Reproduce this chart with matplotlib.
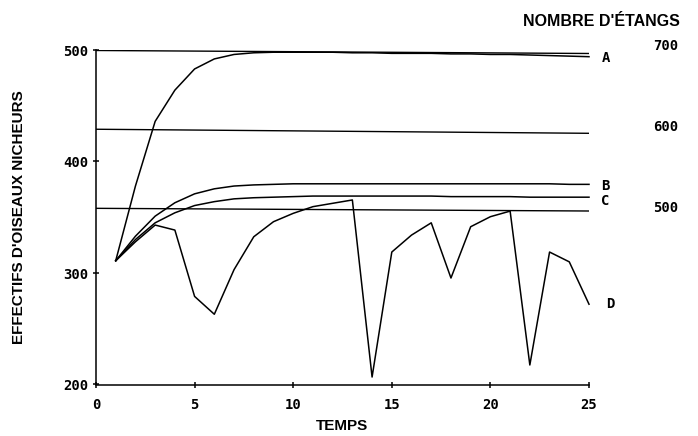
import matplotlib
matplotlib.use("Agg")
import matplotlib.pyplot as plt
from matplotlib.font_manager import FontProperties
from matplotlib.transforms import blended_transform_factory

# ---- data ----
t = list(range(1, 26))
series_A = [311, 378, 436, 464, 483, 492, 496, 497.5, 498, 498, 498, 498, 497.5, 497.5,
            497, 497, 497, 496.5, 496.5, 496, 496, 495.5, 495, 494.5, 494]
series_B = [311, 333, 351, 363, 371, 375.5, 378, 379, 379.5, 380, 380, 380, 380, 380,
            380, 380, 380, 380, 380, 380, 380, 380, 380, 379.5, 379.5]
series_C = [311, 330, 345, 354, 360.5, 364, 366.5, 367.5, 368, 368.5, 369, 369, 369, 369,
            369, 369, 369, 368.5, 368.5, 368.5, 368.5, 368, 368, 368, 368]
series_D = [311, 328, 343, 338.5, 279, 263, 303, 332.5, 346, 353.5, 359.5, 362.5, 365.5,
            206.7, 318.8, 334, 345, 295.5, 341.5, 350.5, 355.5, 217.5, 318.8, 310, 272]
labels = ["A", "B", "C", "D"]

t_ponds = [0, 25]
ponds_1 = [694.8, 691.1]
ponds_2 = [597.7, 592.7]
ponds_3 = [500.2, 496.9]

x_ticks = [0, 5, 10, 15, 20, 25]
y_ticks = [200, 300, 400, 500]
y2_ticks = [500, 600, 700]

# ---- figure ----
fig = plt.figure(figsize=(6.98, 4.36), dpi=100)
ax = fig.add_axes([96/698, 1-384.5/436, (589-96)/698, (384.5-50)/436])
ax.set_xlim(0, 25)
ax.set_ylim(200, 500)

mono = dict(family="DejaVu Sans Mono", weight="bold", size=10)
sans = dict(family="Liberation Sans", weight="bold", size=11)

for s in (series_A, series_B, series_C, series_D):
    ax.plot(t, s, color="black", lw=1.1, clip_on=False)

offsets = [(9, -1), (9, -1), (9, -3), (12, 0)]
for s, lab, off in zip((series_A, series_B, series_C, series_D), labels, offsets):
    ax.annotate(lab, xy=(t[-1], s[-1]), xytext=off, textcoords="offset points",
                ha="left", va="center", annotation_clip=False, **mono)

for sp in ("top", "right"):
    ax.spines[sp].set_visible(False)
ax.spines["left"].set_linewidth(1.1)
ax.spines["bottom"].set_linewidth(1.1)

ax.set_xticks(x_ticks)
ax.set_yticks(y_ticks)
ax.tick_params(direction="inout", length=5, width=1.1)
ax.tick_params(axis="y", pad=3)
ax.tick_params(axis="x", pad=7)
for lbl in ax.get_xticklabels() + ax.get_yticklabels():
    lbl.set_fontproperties(FontProperties(**mono))

ax.set_xlabel("TEMPS", labelpad=5, **sans)
ax.set_ylabel("EFFECTIFS D'OISEAUX NICHEURS", labelpad=27, **sans)

# right-hand scale: number of ponds
ax2 = ax.twinx()
for sp in ax2.spines.values():
    sp.set_visible(False)
for p in (ponds_1, ponds_2, ponds_3):
    ax2.plot(t_ponds, p, color="black", lw=1.0)
ax2.set_yticks([])
ax2.set_ylim(283, 695.4)
tr = blended_transform_factory(ax2.transAxes, ax2.transData)
for v in y2_ticks:
    ax2.text((653 - 96) / 493, v, str(v), transform=tr, ha="left", va="center",
             clip_on=False, **mono)

fig.text(601/698, 1-22/436, "NOMBRE D'ÉTANGS", ha="center", va="center",
         family="Liberation Sans", weight="bold", size=11.5)

fig.savefig("out.png", dpi=100, facecolor="white")
